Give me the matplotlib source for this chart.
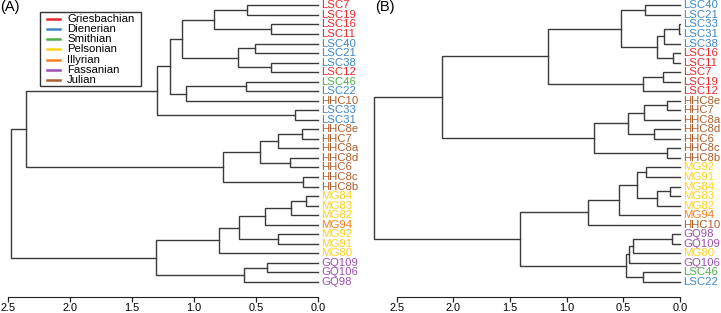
import matplotlib
matplotlib.use("Agg")
import matplotlib.pyplot as plt
from matplotlib.lines import Line2D
from matplotlib.patches import Rectangle

plt.rcParams['font.family'] = ['Liberation Sans', 'DejaVu Sans']

# ---------------- data ----------------
stages = ["Griesbachian", "Dienerian", "Smithian", "Pelsonian",
          "Illyrian", "Fassanian", "Julian"]
stage_colors = ["#E8282A", "#3C87C8", "#4DAF4A", "#FFD21A",
                "#F7801E", "#9B4FB0", "#AE5E2C"]

sample_stage = {
    "LSC7": "Griesbachian", "LSC19": "Griesbachian", "LSC16": "Griesbachian",
    "LSC11": "Griesbachian", "LSC12": "Griesbachian",
    "LSC40": "Dienerian", "LSC21": "Dienerian", "LSC38": "Dienerian",
    "LSC22": "Dienerian", "LSC33": "Dienerian", "LSC31": "Dienerian",
    "LSC46": "Smithian",
    "MG84": "Pelsonian", "MG83": "Pelsonian", "MG82": "Pelsonian",
    "MG92": "Pelsonian", "MG91": "Pelsonian", "MG80": "Pelsonian",
    "MG94": "Illyrian",
    "GQ109": "Fassanian", "GQ106": "Fassanian", "GQ98": "Fassanian",
    "HHC10": "Julian", "HHC8e": "Julian", "HHC7": "Julian", "HHC8a": "Julian",
    "HHC8d": "Julian", "HHC6": "Julian", "HHC8c": "Julian", "HHC8b": "Julian",
}

# Panel A: leaf order (top to bottom) and merges (left, right, height)
leaves_A = ["LSC7", "LSC19", "LSC16", "LSC11", "LSC40", "LSC21", "LSC38",
            "LSC12", "LSC46", "LSC22", "HHC10", "LSC33", "LSC31", "HHC8e",
            "HHC7", "HHC8a", "HHC8d", "HHC6", "HHC8c", "HHC8b", "MG84",
            "MG83", "MG82", "MG94", "MG92", "MG91", "MG80", "GQ109",
            "GQ106", "GQ98"]
merge_left_A = ["LSC7", "LSC16", "a1", "LSC40", "LSC38", "a4", "a3", "LSC46",
                "a8", "a7", "LSC33", "a10", "HHC8e", "a13", "HHC8d", "a14",
                "HHC8c", "a16", "a12", "MG84", "a20", "a21", "MG92", "a22",
                "a24", "GQ109", "a26", "a25", "a19"]
merge_right_A = ["LSC19", "LSC11", "a2", "LSC21", "LSC12", "a5", "a6", "LSC22",
                 "HHC10", "a9", "LSC31", "a11", "HHC7", "HHC8a", "HHC6", "a15",
                 "HHC8b", "a17", "a18", "MG83", "MG82", "MG94", "MG91", "a23",
                 "MG80", "GQ106", "GQ98", "a27", "a28"]
merge_height_A = [0.575, 0.38, 0.836, 0.508, 0.38, 0.648, 1.094, 0.58,
                  1.067, 1.19, 0.185, 1.30, 0.13, 0.32, 0.226, 0.468,
                  0.118, 0.77, 2.357, 0.097, 0.218, 0.427, 0.32, 0.635,
                  0.80, 0.41, 0.60, 1.306, 2.476]

# Panel B
leaves_B = ["LSC40", "LSC21", "LSC33", "LSC31", "LSC38", "LSC16", "LSC11",
            "LSC7", "LSC19", "LSC12", "HHC8e", "HHC7", "HHC8a", "HHC8d",
            "HHC6", "HHC8c", "HHC8b", "MG92", "MG91", "MG84", "MG83", "MG82",
            "MG94", "HHC10", "GQ98", "GQ109", "MG80", "GQ106", "LSC46",
            "LSC22"]
merge_left_B = ["LSC40", "LSC33", "b2", "LSC16", "b3", "b1", "LSC7", "b7",
                "b6", "HHC8e", "b10", "HHC8d", "b11", "HHC8c", "b13", "b9",
                "MG92", "MG84", "b18", "b17", "b20", "b21", "GQ98", "b23",
                "b24", "LSC46", "b25", "b22", "b16"]
merge_right_B = ["LSC21", "LSC31", "LSC38", "LSC11", "b4", "b5", "LSC19",
                 "LSC12", "b8", "HHC7", "HHC8a", "HHC6", "b12", "HHC8b",
                 "b14", "b15", "MG91", "MG83", "MG82", "b19", "MG94", "HHC10",
                 "GQ109", "MG80", "GQ106", "LSC22", "b26", "b27", "b28"]
merge_height_B = [0.309, 0.012, 0.138, 0.059, 0.206, 0.523, 0.153, 0.33,
                  1.168, 0.118, 0.318, 0.227, 0.462, 0.118, 0.756, 2.10,
                  0.303, 0.088, 0.206, 0.382, 0.538, 0.809, 0.068, 0.418,
                  0.447, 0.324, 0.479, 1.41, 2.70]

ticks = [0.0, 0.5, 1.0, 1.5, 2.0, 2.5]
tick_labels = ["0.0", "0.5", "1.0", "1.5", "2.0", "2.5"]

# ---------------- drawing ----------------
W, H = 721, 313
fig = plt.figure(figsize=(W / 100, H / 100), dpi=100)
line_color = "#3a3a3a"
color_of = dict(zip(stages, stage_colors))


def draw_dendro(ax, leaves, lefts, rights, heights, prefix):
    pos = {name: (float(i), 0.0) for i, name in enumerate(leaves)}
    for k, (l, r, h) in enumerate(zip(lefts, rights, heights), start=1):
        yl, hl = pos[l]
        yr, hr = pos[r]
        ax.plot([hl, h, h, hr], [yl, yl, yr, yr], color=line_color,
                lw=1.0, solid_joinstyle="miter", clip_on=False)
        pos[f"{prefix}{k}"] = ((yl + yr) / 2.0, h)
    n = len(leaves)
    for i, name in enumerate(leaves):
        ax.annotate(name, xy=(0, i), xytext=(2.2, 0),
                    textcoords="offset points", va="center", ha="left",
                    fontsize=8.2, color=color_of[sample_stage[name]],
                    annotation_clip=False)
    ax.set_ylim(n - 1 + 1.59, -0.46)
    for s in ["top", "right", "left"]:
        ax.spines[s].set_visible(False)
    ax.spines["bottom"].set_bounds(0, 2.5)
    ax.spines["bottom"].set_color("#222222")
    ax.set_xticks(ticks)
    ax.set_xticklabels(tick_labels)
    ax.tick_params(axis="x", direction="out", length=3.3, width=0.9,
                   labelsize=7.9, pad=1.0, color="#222222")
    ax.set_yticks([])
    ax.patch.set_alpha(0)


bottom = 1 - 297 / H
height = 296 / H

axA = fig.add_axes([8 / W, bottom, 310 / W, height])
axA.set_xlim(2.5, 0.0)
draw_dendro(axA, leaves_A, merge_left_A, merge_right_A, merge_height_A, "a")

axB = fig.add_axes([370 / W, bottom, 310 / W, height])
axB.set_xlim((680 - 370) / 113.3, 0.0)
draw_dendro(axB, leaves_B, merge_left_B, merge_right_B, merge_height_B, "b")

fig.text(0 / W, 1 - 0 / H, "(A)", fontsize=10.5, va="top", ha="left")
fig.text(375 / W, 1 - 0 / H, "(B)", fontsize=10.5, va="top", ha="left")

# legend box drawn in figure pixel coordinates
box_x0, box_y0, box_x1, box_y1 = 40, 12, 141, 86
fig.patches.append(Rectangle((box_x0 / W, 1 - box_y1 / H),
                             (box_x1 - box_x0) / W, (box_y1 - box_y0) / H,
                             transform=fig.transFigure, facecolor="white",
                             edgecolor="#333333", lw=1.0, zorder=5))
row_pitch = 10.2
for k, (name, col) in enumerate(zip(stages, stage_colors)):
    yc = 1 - (18.8 + k * row_pitch) / H
    fig.add_artist(Line2D([47 / W, 60 / W], [yc, yc], color=col, lw=1.8,
                          transform=fig.transFigure, zorder=6))
    fig.text(67 / W, yc, name, fontsize=8.2, va="center", ha="left",
             zorder=6)

fig.savefig("out.png", dpi=100)
